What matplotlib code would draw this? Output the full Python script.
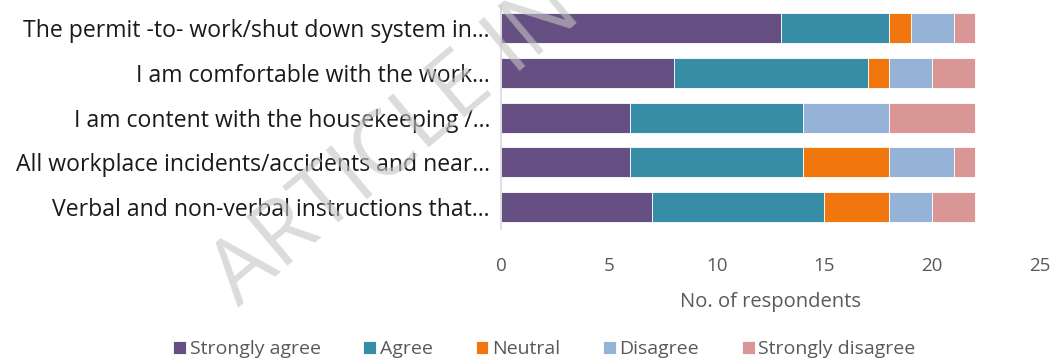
import matplotlib
matplotlib.use("Agg")
import matplotlib.pyplot as plt
import numpy as np

statements = [
    "The permit -to- work/shut down system in...",
    "I am comfortable with the work...",
    "I am content with the housekeeping /...",
    "All workplace incidents/accidents and near...",
    "Verbal and non-verbal instructions that...",
]
strongly_agree = [13, 8, 6, 6, 7]
agree = [5, 9, 8, 8, 8]
neutral = [1, 1, 0, 4, 3]
disagree = [2, 2, 4, 3, 2]
strongly_disagree = [1, 2, 4, 1, 2]

series = [
    ("Strongly agree", strongly_agree, "#664F82"),
    ("Agree", agree, "#388DA6"),
    ("Neutral", neutral, "#F2760E"),
    ("Disagree", disagree, "#95B3D7"),
    ("Strongly disagree", strongly_disagree, "#D99694"),
]
x_ticks = [0, 5, 10, 15, 20, 25]

plt.rcParams["font.family"] = ["Open Sans", "DejaVu Sans"]

fig = plt.figure(figsize=(10.57, 3.6), dpi=100)
ax = fig.add_axes([0.474, 0.363, 0.510, 0.621])

y = np.arange(len(statements))
left = np.zeros(len(statements))
for name, vals, color in series:
    vals = np.array(vals, dtype=float)
    ax.barh(y, vals, left=left, height=0.67, color=color, label=name,
            edgecolor="white", linewidth=0.6)
    left += vals

ax.set_ylim(len(statements) - 0.5, -0.5)
ax.set_xlim(0, 25)
ax.set_yticks(y)
ax.set_yticklabels(statements, fontsize=16.6, color="#1a1a1a")
ax.set_xticks(x_ticks)
ax.set_xticklabels([str(t) for t in x_ticks], fontsize=13.5, color="#595959")
ax.tick_params(axis="both", length=0)
ax.tick_params(axis="x", pad=20)
ax.tick_params(axis="y", pad=8)
for side in ("top", "right", "bottom"):
    ax.spines[side].set_visible(False)
ax.spines["left"].set_color("#D9D9D9")
ax.spines["left"].set_linewidth(1.2)
ax.set_xlabel("No. of respondents", fontsize=14.5, color="#595959", labelpad=12)

leg = fig.legend(loc="center", bbox_to_anchor=(0.515, 0.03), ncol=5, frameon=False,
                 fontsize=14, handlelength=0.65, handleheight=0.65,
                 handletextpad=0.2, columnspacing=2.2)
for t in leg.get_texts():
    t.set_color("#595959")

fig.text(0.375, 0.60, "ARTICLE IN", fontsize=64, rotation=40, color="#c4c4c4",
         alpha=0.6, ha="center", va="center", fontweight="normal")

fig.savefig("out.png", dpi=100)
